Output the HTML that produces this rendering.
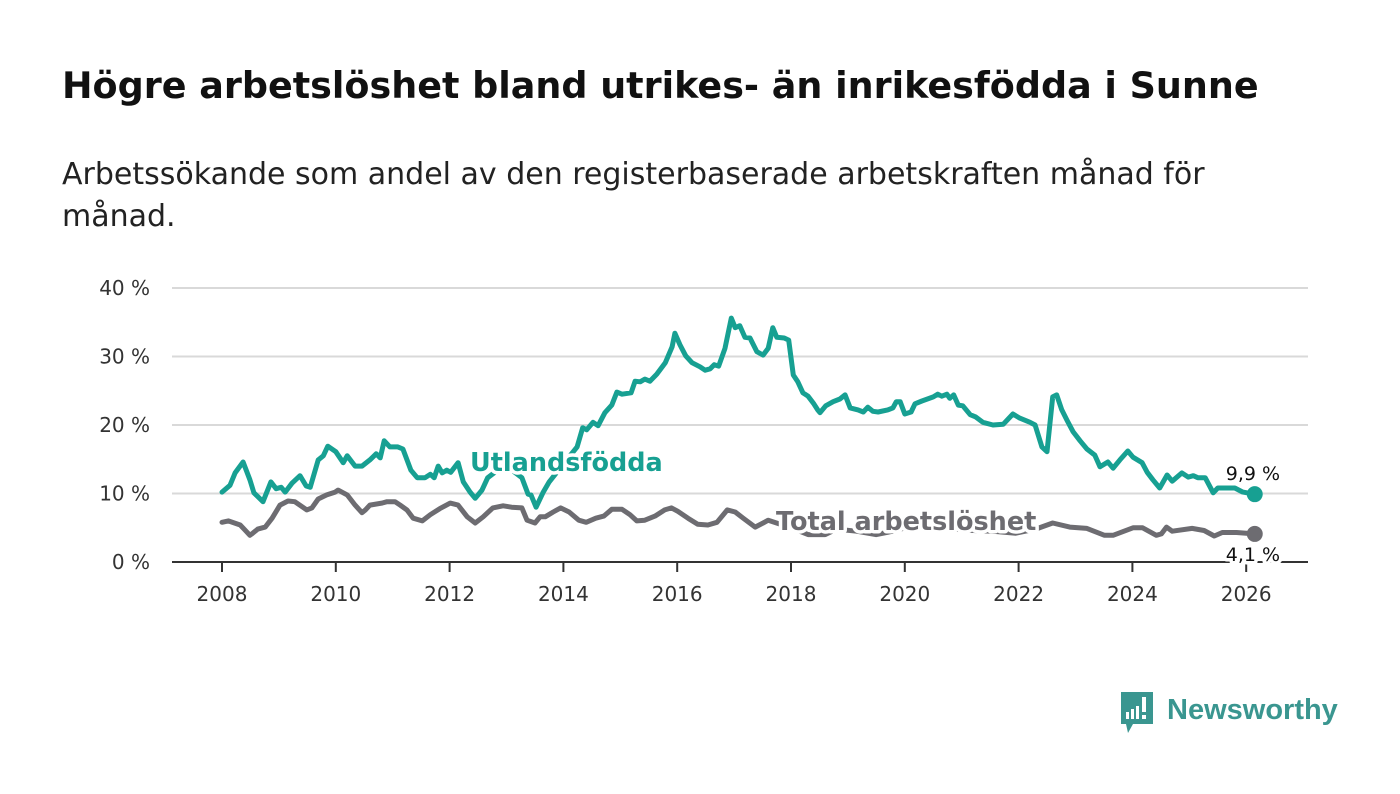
<!DOCTYPE html>
<html><head><meta charset="utf-8">
<style>
html,body{margin:0;padding:0;background:#fff;width:1400px;height:794px;overflow:hidden;font-family:"DejaVu Sans","Liberation Sans",sans-serif;}
#title{position:absolute;left:62px;top:64px;font-size:36.5px;font-weight:bold;color:#111;margin:0;white-space:nowrap;}
#sub{position:absolute;left:62px;top:154px;font-size:30px;color:#222;line-height:42px;width:1220px;}
svg{position:absolute;left:0;top:0;}
</style></head><body>
<h1 id="title">Högre arbetslöshet bland utrikes- än inrikesfödda i Sunne</h1>
<div id="sub">Arbetssökande som andel av den registerbaserade arbetskraften månad för månad.</div>
<svg id="chart" width="1400" height="794">
 <g>
  <path d="M1121 692 h32 v32 h-20 l-5 9 l-2 -9 h-5 z" fill="#3a9690"/>
  <rect x="1126" y="712" width="3" height="7" fill="#fff"/>
  <rect x="1131" y="709" width="3" height="10" fill="#fff"/>
  <rect x="1136" y="706" width="3" height="13" fill="#fff"/>
  <rect x="1142" y="697" width="4" height="15" fill="#fff"/>
  <rect x="1142" y="715" width="4" height="4" fill="#fff"/>
  <text x="1167" y="719" font-size="29" font-family="Liberation Sans, sans-serif" fill="#3a9690" font-weight="bold">Newsworthy</text>
 </g>
</svg>
<script>
const yTicks=[0,10,20,30,40];
const yTickLabels=["0 %","10 %","20 %","30 %","40 %"];
const xTicks=[2008,2010,2012,2014,2016,2018,2020,2022,2024,2026];
const foreignDates=[2008.00,2008.14,2008.23,2008.37,2008.49,2008.56,2008.72,2008.86,2008.95,2009.04,2009.11,2009.23,2009.37,2009.48,2009.55,2009.69,2009.78,2009.86,2010.00,2010.13,2010.20,2010.34,2010.46,2010.60,2010.71,2010.78,2010.85,2010.95,2011.09,2011.18,2011.32,2011.43,2011.57,2011.66,2011.73,2011.80,2011.87,2011.95,2012.02,2012.15,2012.24,2012.36,2012.45,2012.57,2012.67,2012.97,2013.27,2013.38,2013.43,2013.52,2013.64,2013.75,2013.99,2014.24,2014.34,2014.41,2014.52,2014.61,2014.73,2014.85,2014.94,2015.03,2015.19,2015.26,2015.35,2015.43,2015.52,2015.64,2015.79,2015.91,2015.96,2016.05,2016.15,2016.26,2016.40,2016.49,2016.58,2016.65,2016.73,2016.84,2016.95,2017.02,2017.10,2017.19,2017.28,2017.40,2017.51,2017.60,2017.68,2017.75,2017.88,2017.96,2018.04,2018.12,2018.21,2018.30,2018.40,2018.47,2018.51,2018.61,2018.74,2018.86,2018.95,2019.04,2019.18,2019.27,2019.35,2019.44,2019.53,2019.70,2019.79,2019.85,2019.92,2020.00,2020.11,2020.18,2020.30,2020.50,2020.58,2020.65,2020.74,2020.79,2020.86,2020.94,2021.02,2021.15,2021.24,2021.37,2021.55,2021.73,2021.90,2022.02,2022.20,2022.29,2022.41,2022.50,2022.60,2022.67,2022.76,2022.85,2022.96,2023.08,2023.20,2023.34,2023.43,2023.57,2023.66,2023.78,2023.92,2024.01,2024.17,2024.26,2024.36,2024.48,2024.61,2024.70,2024.87,2024.98,2025.07,2025.15,2025.28,2025.42,2025.50,2025.80,2025.94,2026.15];
const foreignValues=[10.2,11.2,13.0,14.6,12.0,10.1,8.8,11.7,10.7,10.9,10.2,11.5,12.6,11.1,10.9,14.9,15.5,16.9,16.1,14.5,15.5,14.0,14.0,14.9,15.8,15.2,17.7,16.8,16.8,16.5,13.4,12.3,12.3,12.8,12.3,14.0,13.0,13.4,13.1,14.5,11.7,10.2,9.3,10.5,12.3,14.2,12.3,9.9,9.8,8.0,10.1,11.7,14.2,16.8,19.6,19.3,20.4,19.9,21.8,22.9,24.8,24.5,24.7,26.4,26.3,26.7,26.4,27.4,29.1,31.4,33.4,31.7,30.1,29.1,28.5,28.0,28.2,28.8,28.6,31.2,35.6,34.2,34.5,32.8,32.7,30.7,30.2,31.2,34.2,32.8,32.7,32.4,27.3,26.3,24.7,24.2,23.1,22.2,21.8,22.8,23.4,23.8,24.4,22.5,22.2,21.9,22.6,22.0,21.9,22.2,22.5,23.4,23.4,21.6,21.9,23.1,23.5,24.1,24.5,24.2,24.5,23.9,24.4,22.9,22.8,21.5,21.2,20.4,20.0,20.1,21.6,21.0,20.4,20.0,16.8,16.1,24.1,24.4,22.2,20.7,19.0,17.7,16.5,15.6,13.9,14.6,13.7,14.9,16.2,15.3,14.5,13.1,12.0,10.8,12.7,11.8,13.0,12.4,12.6,12.3,12.3,10.1,10.8,10.8,10.2,9.9];
const totalDates=[2008.00,2008.11,2008.32,2008.40,2008.49,2008.54,2008.63,2008.76,2008.88,2009.02,2009.16,2009.28,2009.49,2009.58,2009.69,2009.84,2009.99,2010.04,2010.20,2010.34,2010.46,2010.52,2010.60,2010.81,2010.90,2011.04,2011.13,2011.25,2011.36,2011.52,2011.66,2011.83,2012.01,2012.15,2012.31,2012.45,2012.59,2012.76,2012.94,2013.09,2013.27,2013.36,2013.50,2013.59,2013.68,2013.82,2013.95,2014.10,2014.27,2014.40,2014.57,2014.71,2014.85,2015.03,2015.17,2015.29,2015.43,2015.61,2015.78,2015.90,2016.01,2016.19,2016.36,2016.54,2016.70,2016.88,2017.02,2017.16,2017.37,2017.51,2017.60,2018.00,2018.30,2018.60,2018.80,2019.15,2019.50,2019.85,2020.20,2020.50,2020.85,2021.20,2021.55,2021.95,2022.30,2022.60,2022.90,2023.20,2023.51,2023.66,2024.01,2024.18,2024.42,2024.51,2024.60,2024.70,2025.05,2025.26,2025.44,2025.58,2025.83,2026.15];
const totalValues=[5.8,6.0,5.4,4.7,3.9,4.2,4.8,5.1,6.4,8.3,8.9,8.8,7.6,7.9,9.2,9.8,10.2,10.5,9.8,8.3,7.2,7.6,8.3,8.6,8.8,8.8,8.3,7.6,6.4,6.0,6.9,7.8,8.6,8.3,6.6,5.7,6.6,7.9,8.2,8.0,7.9,6.1,5.7,6.6,6.6,7.3,7.9,7.3,6.1,5.8,6.4,6.7,7.7,7.7,6.9,6.0,6.1,6.7,7.6,7.9,7.4,6.4,5.5,5.4,5.8,7.6,7.3,6.4,5.1,5.7,6.1,5.0,4.0,4.0,4.8,4.5,4.0,4.6,5.5,5.0,4.8,4.6,4.5,4.2,4.8,5.7,5.1,4.9,3.9,3.9,5.0,5.0,3.9,4.1,5.1,4.5,4.9,4.6,3.8,4.3,4.3,4.1];
const seriesNames=["Utlandsfödda","Total arbetslöshet"];
const endLabels=["9,9 %","4,1 %"];

const NS="http://www.w3.org/2000/svg";
const svg=document.getElementById('chart');
const X0=222, PXY=56.9, Y0=562, PXV=6.85;
function xs(d){return X0+(d-2008)*PXY;}
function ys(v){return Y0-v*PXV;}
function el(t,a,p){const e=document.createElementNS(NS,t);for(const k in a)e.setAttribute(k,a[k]);(p||svg).appendChild(e);return e;}
const FONT='"DejaVu Sans", "Liberation Sans", sans-serif';
const grid=el('g',{});


yTicks.forEach((t,i)=>{
  if(t>0){const l=el('line',{x1:172,x2:1308,y1:ys(t),y2:ys(t),stroke:'#d9d9d9','stroke-width':2},grid);
  
  }
  const tx=el('text',{x:150,y:ys(t)+7,'text-anchor':'end','font-size':20,fill:'#333','font-family':FONT});
  tx.textContent=yTickLabels[i];
  
  
});
const ax=el('line',{x1:172,x2:1308,y1:Y0,y2:Y0,stroke:'#333','stroke-width':2});


xTicks.forEach(t=>{
  const tk=el('line',{x1:xs(t),x2:xs(t),y1:Y0,y2:Y0+10,stroke:'#333','stroke-width':2});
  
  
  const tx=el('text',{x:xs(t),y:Y0+39,'text-anchor':'middle','font-size':20,fill:'#333','font-family':FONT});
  tx.textContent=t;
  
  
});
function line(dates,vals,color,name){
  const d=dates.map((t,i)=>(i?'L':'M')+xs(t).toFixed(1)+' '+ys(vals[i]).toFixed(1)).join(' ');
  const p=el('path',{d:d,fill:'none',stroke:color,'stroke-width':5,'stroke-linejoin':'round','stroke-linecap':'round'});
  
  
  const n=dates.length-1;
  const c=el('circle',{cx:xs(dates[n]),cy:ys(vals[n]),r:8,fill:color});
  
  
}
const TEAL='#17a092', GRAY='#6d6c71';
line(totalDates,totalValues,GRAY,'total-line');
line(foreignDates,foreignValues,TEAL,'foreign-born-line');
function label(x,y,txt,color,size,bold,name){
  const t=el('text',{x:x,y:y,'font-size':size,fill:color,'font-family':FONT,'font-weight':bold?'bold':'normal',stroke:'#fff','stroke-width':7,'paint-order':'stroke','stroke-linejoin':'round'});
  t.textContent=txt;
  
  
}
label(470,471,seriesNames[0],TEAL,25.5,true,'foreign-born-label');
label(776,530,seriesNames[1],GRAY,25.5,true,'total-label');
const nf=foreignDates.length-1, nt=totalDates.length-1;
label(xs(foreignDates[nf])-29,ys(foreignValues[nf])-14,endLabels[0],'#111',19,false,'foreign-end-value');
label(xs(totalDates[nt])-29,ys(totalValues[nt])+27,endLabels[1],'#111',19,false,'total-end-value');
</script>
</body></html>
